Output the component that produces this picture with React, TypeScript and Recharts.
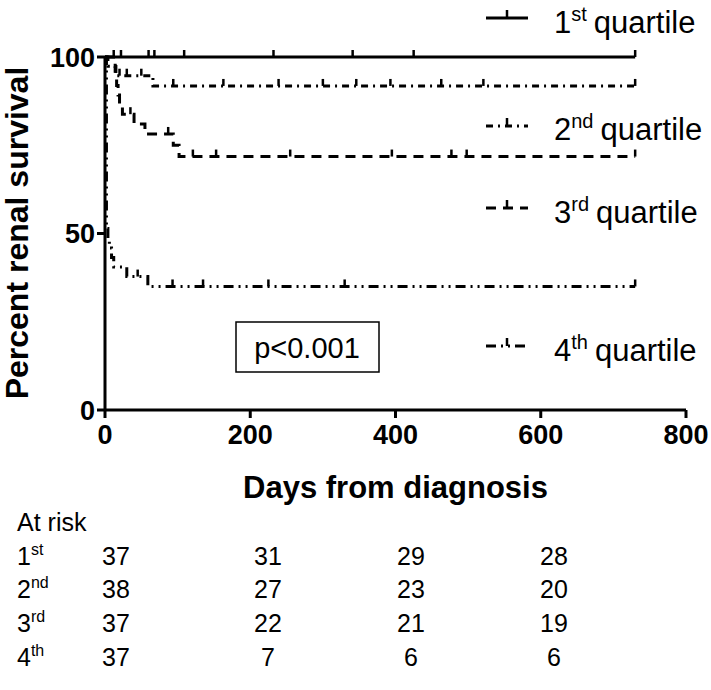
import React from 'react'
import { LineChart, Line, XAxis, YAxis } from 'recharts'

const FONT = "'Liberation Sans', Arial, Helvetica, sans-serif"

// Kaplan-Meier steps: [day, percent surviving]
const Q1_STEPS: [number, number][] = [[0, 100], [730, 100]]
const Q2_STEPS: [number, number][] = [[0, 100], [4, 97.4], [14, 94.7], [66, 91.8], [730, 91.8]]
const Q3_STEPS: [number, number][] = [
  [0, 100], [14, 97.3], [15, 94.6], [16, 91.9], [18, 89.2], [20, 86.5], [24, 83.8],
  [40, 81.0], [55, 78.2], [94, 75.0], [102, 71.8], [730, 71.8],
]
const Q4_STEPS: [number, number][] = [
  [0, 100], [2, 51.4], [4, 48.6], [6, 45.9], [9, 43.2], [12, 40.5], [30, 37.8], [59, 35.0], [730, 35.0],
]

// censored observations (days)
const Q1_CENSORED = [12, 22, 60, 68, 109, 232, 341, 425, 730]
const Q2_CENSORED = [20, 30, 50, 94, 163, 239, 300, 346, 393, 463, 521, 730]
const Q3_CENSORED = [35, 87, 121, 153, 255, 395, 477, 498, 730]
const Q4_CENSORED = [45, 93, 135, 225, 330, 730]

const X_TICKS = [0, 200, 400, 600, 800]
const Y_TICKS = [0, 50, 100]

const QUARTILES = ['1', '2', '3', '4']
const ORDINALS = ['st', 'nd', 'rd', 'th']
const DASHES = ['', '7 5 2 5', '10 7', '10 5 2 5 2 5']

const AT_RISK_DAYS = [0, 200, 400, 600]
const AT_RISK_Q1 = [37, 31, 29, 28]
const AT_RISK_Q2 = [38, 27, 23, 20]
const AT_RISK_Q3 = [37, 22, 21, 19]
const AT_RISK_Q4 = [37, 7, 6, 6]

function buildSeries(steps: [number, number][], censored: number[]) {
  const valueAt = (d: number) => {
    let v = steps[0][1]
    for (const [day, s] of steps) if (day <= d) v = s
    return v
  }
  const pts = steps.map(([day, s]) => ({ day, s, c: false }))
  for (const d of censored) pts.push({ day: d, s: valueAt(d), c: true })
  return pts.sort((a, b) => a.day - b.day || (a.c ? 1 : -1))
}

const SERIES = [
  buildSeries(Q1_STEPS, Q1_CENSORED),
  buildSeries(Q2_STEPS, Q2_CENSORED),
  buildSeries(Q3_STEPS, Q3_CENSORED),
  buildSeries(Q4_STEPS, Q4_CENSORED),
]
const AT_RISK = [AT_RISK_Q1, AT_RISK_Q2, AT_RISK_Q3, AT_RISK_Q4]

const censorDot = (p: any) => {
  if (!p.payload?.c) return <g key={`n${p.index}`} />
  return <line key={`c${p.index}`} x1={p.cx} x2={p.cx} y1={p.cy} y2={p.cy - 7} stroke="#000" strokeWidth={2.5} />
}

// legend / table placement
const LEGEND_Y = [18, 126, 208, 346]
const LEGEND_BASE = [33, 140, 223, 361]
const RISK_X = [116, 268, 411, 554]
const RISK_BASE = [565, 598, 632, 666]

export default function App() {
  return (
    <div style={{ position: 'absolute', left: 0, top: 0, width: 711, height: 690, background: '#fff', fontFamily: FONT }}>
      <LineChart width={711} height={520} margin={{ top: 57, right: 25, left: 0, bottom: 0 }}>
        <XAxis
          type="number" dataKey="day" domain={[0, 800]} ticks={X_TICKS} height={110}
          axisLine={{ stroke: '#000', strokeWidth: 3 }} tickLine={{ stroke: '#000', strokeWidth: 3 }}
          tickSize={8} tickMargin={7}
          tick={{ fontSize: 27, fontWeight: 700, fill: '#000', fontFamily: FONT }}
          label={{ value: 'Days from diagnosis', position: 'insideBottom', offset: 22, fontSize: 31, fontWeight: 700, fill: '#000', fontFamily: FONT }}
        />
        <YAxis
          type="number" dataKey="s" domain={[0, 100]} ticks={Y_TICKS} width={105}
          axisLine={{ stroke: '#000', strokeWidth: 3 }} tickLine={{ stroke: '#000', strokeWidth: 3 }}
          tickSize={8} tickMargin={2}
          tick={{ fontSize: 27, fontWeight: 700, fill: '#000', fontFamily: FONT }}
          label={{
            content: () => (
              <text transform="translate(28,233) rotate(-90)" textAnchor="middle" fontSize={32} fontWeight={700} fill="#000" fontFamily={FONT}>
                Percent renal survival
              </text>
            ),
          }}
        />
        {SERIES.map((data, i) => (
          <Line
            key={i} data={data} dataKey="s" type="stepAfter" stroke="#000" strokeWidth={3}
            strokeDasharray={DASHES[i] || undefined} dot={censorDot} activeDot={false}
            isAnimationActive={false}
          />
        ))}
      </LineChart>

      <svg width={711} height={690} style={{ position: 'absolute', left: 0, top: 0, pointerEvents: 'none' }} fontFamily={FONT}>
        {QUARTILES.map((q, i) => (
          <g key={q}>
            <line x1={486} x2={528} y1={LEGEND_Y[i]} y2={LEGEND_Y[i]} stroke="#000" strokeWidth={3} strokeDasharray={DASHES[i] || undefined} />
            <line x1={507} x2={507} y1={LEGEND_Y[i]} y2={LEGEND_Y[i] - 8} stroke="#000" strokeWidth={2.5} />
            <text x={554} y={LEGEND_BASE[i]} fontSize={31} fill="#000">
              {q}
              <tspan dy={-12} fontSize={20}>{ORDINALS[i]}</tspan>
              <tspan dy={12} dx={7}>quartile</tspan>
            </text>
          </g>
        ))}

        <rect x={236} y={322} width={143} height={50} fill="none" stroke="#000" strokeWidth={1.5} />
        <text x={307} y={358} textAnchor="middle" fontSize={29} fill="#000">p&lt;0.001</text>

        <text x={17} y={531} fontSize={25} fill="#000">At risk</text>
        {AT_RISK.map((row, r) => (
          <g key={r}>
            <text x={17} y={RISK_BASE[r]} fontSize={25} fill="#000">
              {QUARTILES[r]}
              <tspan dy={-10} fontSize={16}>{ORDINALS[r]}</tspan>
            </text>
            {row.map((n, c) => (
              <text key={AT_RISK_DAYS[c]} x={RISK_X[c]} y={RISK_BASE[r]} textAnchor="middle" fontSize={25} fill="#000">{n}</text>
            ))}
          </g>
        ))}
      </svg>
    </div>
  )
}
